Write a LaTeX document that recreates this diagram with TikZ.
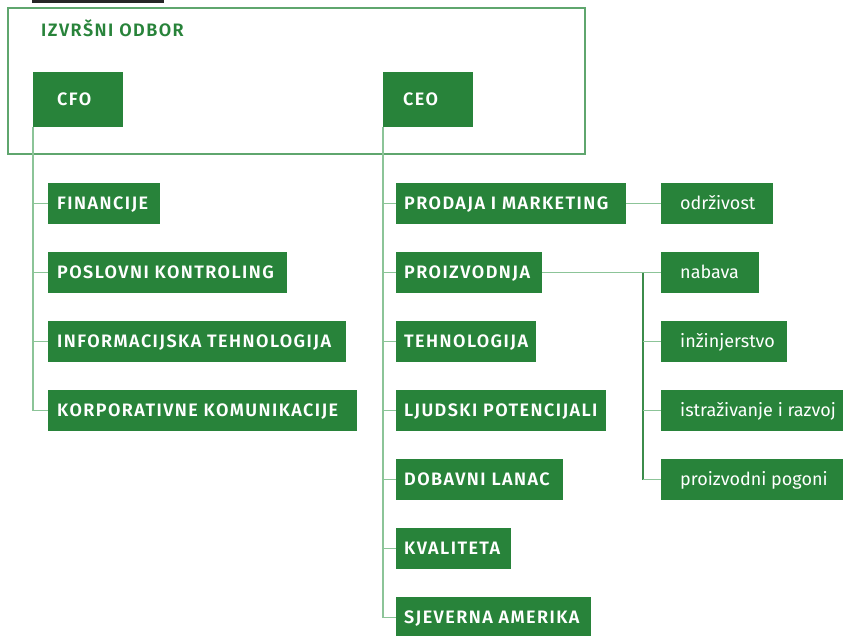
\documentclass[tikz,border=0pt]{standalone}
\usepackage{fontspec}
\setmainfont{Fira Sans}[BoldFont={Fira Sans SemiBold}]
\definecolor{boxgreen}{RGB}{40,131,58}
\definecolor{linegreen}{RGB}{140,196,152}
\definecolor{framegreen}{RGB}{95,166,110}
\definecolor{darkline}{RGB}{60,140,75}
\newcommand\capsf{\bfseries\addfontfeature{LetterSpace=8}}
\newcommand\obox[7]{%
  \node[boxshape, minimum width=#4pt, minimum height=#5pt, anchor=north west] (#1) at (#2,#3) {};
  \node[boxtext, anchor=base west] (#1-t) at ([xshift=#6pt, yshift=-6.4pt]#1.west) {#7};
}
\begin{document}
\begin{tikzpicture}[x=1pt, y=-1pt,
  boxshape/.style={fill=boxgreen, draw=none, inner sep=0pt, outer sep=0pt},
  boxtext/.style={text=white, inner sep=0pt, font=\fontsize{18}{20}\selectfont},
  conn/.style={draw=linegreen, line width=1.3pt},
  conndark/.style={draw=darkline, line width=1.2pt},
  frame/.style={draw=framegreen, line width=1.2pt}]
\useasboundingbox (0,0) rectangle (843,635);
\fill[black!85] (32,0) rectangle (164,2.5);
\draw[frame] (8,8) rectangle (585,154);
\node[anchor=base west, inner sep=0pt, text=boxgreen, font=\fontsize{18}{20}\selectfont\capsf] (title) at (41,36) {IZVRŠNI ODBOR};

\obox{cfo}{33}{72}{90}{55}{24}{\capsf CFO}
\obox{ceo}{383}{72}{90}{55}{20}{\capsf CEO}

\obox{fin}{48}{183}{112}{41}{9}{\capsf FINANCIJE}
\obox{pk}{48}{252}{239}{41}{9}{\capsf POSLOVNI KONTROLING}
\obox{it}{48}{321}{298}{41}{9}{\capsf INFORMACIJSKA TEHNOLOGIJA}
\obox{kk}{48}{390}{309}{41}{9}{\capsf KORPORATIVNE KOMUNIKACIJE}

\obox{pim}{396}{183}{230}{41}{8}{\capsf PRODAJA I MARKETING}
\obox{proi}{396}{252}{146}{41}{8}{\capsf PROIZVODNJA}
\obox{teh}{396}{321}{140}{41}{8}{\capsf TEHNOLOGIJA}
\obox{ljp}{396}{390}{210}{41}{8}{\capsf LJUDSKI POTENCIJALI}
\obox{dl}{396}{459}{167}{41}{8}{\capsf DOBAVNI LANAC}
\obox{kv}{396}{528}{115}{41}{8}{\capsf KVALITETA}
\obox{sa}{396}{597}{195}{41}{8}{\capsf SJEVERNA AMERIKA}

\obox{odr}{661}{183}{112}{41}{19}{održivost}
\obox{nab}{661}{252}{98}{41}{19}{nabava}
\obox{inz}{661}{321}{126}{41}{19}{inžinjerstvo}
\obox{ist}{661}{390}{182}{41}{19}{istraživanje i razvoj}
\obox{pp}{661}{459}{182}{41}{19}{proizvodni pogoni}

% CFO tree
\draw[conn] (cfo.south west) |- (kk.west);
\foreach \n in {fin,pk,it} \draw[conn] (cfo.south west |- \n.west) -- (\n.west);
% CEO tree
\draw[conn] (ceo.south west) |- (sa.west);
\foreach \n in {pim,proi,teh,ljp,dl,kv} \draw[conn] (ceo.south west |- \n.west) -- (\n.west);
% sub trees
\draw[conn] (pim.east) -- (odr.west);
\draw[conn] (proi.east) -- (nab.west);
\coordinate (sx) at (643,0);
\draw[conndark] (proi.east -| sx) -- (pp.west -| sx);
\foreach \n in {inz,ist,pp} \draw[conn] (sx |- \n.west) -- (\n.west);
\end{tikzpicture}
\end{document}
